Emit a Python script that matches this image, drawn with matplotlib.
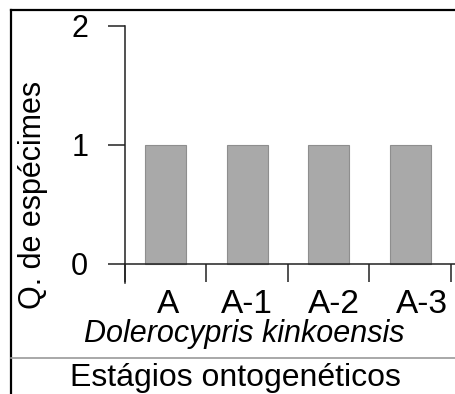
import matplotlib
matplotlib.use("Agg")
import matplotlib.pyplot as plt
from matplotlib.lines import Line2D
from matplotlib.transforms import ScaledTranslation

plt.rcParams['font.family'] = ['Liberation Sans', 'DejaVu Sans']

# data
stages = ['A', 'A-1', 'A-2', 'A-3']
counts = [1, 1, 1, 1]
yticks = [0, 1, 2]
species = 'Dolerocypris kinkoensis'
xlabel = 'Estágios ontogenéticos'
ylabel = 'Q. de espécimes'

fig = plt.figure(figsize=(4.55, 3.94), dpi=100)
ax = fig.add_axes([125/455, 1 - 283/394, 1 - 125/455, (283 - 21)/394])

xpos = list(range(len(stages)))
ax.bar(xpos, counts, width=0.5, color='#a9a9a9', edgecolor='#8e8e8e', linewidth=0.8, zorder=2)

ax.set_xlim(-0.5, 3.55)
ax.set_ylim(-0.16, 2.04)

for s in ['top', 'right']:
    ax.spines[s].set_visible(False)
ax.spines['left'].set_linewidth(1.1)
ax.spines['left'].set_color('#222222')
ax.spines['left'].set_bounds(-0.16, 2.0)
ax.spines['bottom'].set_position(('data', 0))
ax.spines['bottom'].set_linewidth(1.1)
ax.spines['bottom'].set_color('#222222')
ax.spines['bottom'].set_zorder(3)

# boundary ticks on x, labels in between
ax.set_xticks([i - 0.5 for i in range(len(stages) + 1)])
ax.set_xticklabels([])
ax.tick_params(axis='x', which='major', direction='out', length=13, width=1.1, color='#222222')
ax.set_xticks(xpos, minor=True)
ax.set_xticklabels(stages, minor=True, fontsize=24)
ax.tick_params(axis='x', which='minor', length=0, pad=18)
# small nudges of the stage labels, as in the original
for lab, dx in zip(ax.get_xticklabels(minor=True), [2, 0, 5, 12]):
    lab.set_transform(lab.get_transform() + ScaledTranslation(dx / 100, 0, fig.dpi_scale_trans))

ax.set_yticks(yticks)
ax.set_yticklabels([str(v) for v in yticks], fontsize=22)
ax.tick_params(axis='y', direction='out', length=12.5, width=1.1, color='#222222', pad=14)

fig.text(33/455, 1 - 195/394, ylabel, rotation=90, ha='center', va='center', fontsize=22)
fig.text(244/455, 1 - 342/394, species, style='italic', ha='center', va='baseline', fontsize=22)
fig.text(235/455, 1 - 386/394, xlabel, ha='center', va='baseline', fontsize=23)

# frame lines
fig.add_artist(Line2D([11/455, 11/455], [0, 1 - 10/394], transform=fig.transFigure, color='black', lw=1.6))
fig.add_artist(Line2D([11/455, 1], [1 - 10/394, 1 - 10/394], transform=fig.transFigure, color='black', lw=1.6))
fig.add_artist(Line2D([11/455, 1], [1 - 358/394, 1 - 358/394], transform=fig.transFigure, color='#9a9a9a', lw=1.2))

fig.savefig('out.png', dpi=100)
